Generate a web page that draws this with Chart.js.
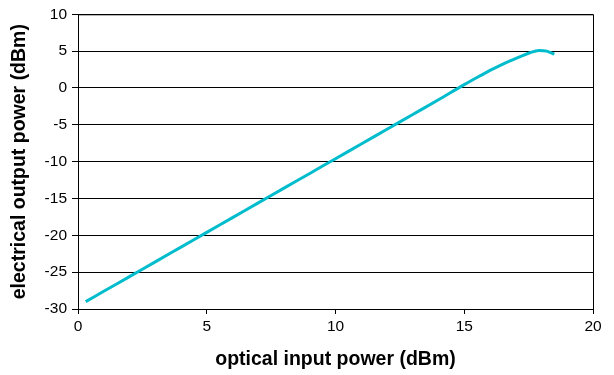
<!DOCTYPE html>
<html>
<head>
<meta charset="utf-8">
<script src="https://cdn.jsdelivr.net/npm/chart.js@4"></script>
<style>
  html, body { margin: 0; padding: 0; background: #fff; }
  #wrap { width: 614px; height: 375px; }
</style>
</head>
<body>
<div id="wrap"><canvas id="myChart"></canvas></div>
<script>
// optical input power (dBm)
const inputPower = [0.3, 1, 2, 3, 4, 5, 6, 7, 8, 9, 10, 11, 12, 13, 14, 15, 15.6, 16, 16.4, 16.8, 17.2, 17.55, 17.9, 18.2, 18.5];
// electrical output power (dBm)
const outputPower = [-29.0, -27.6, -25.6, -23.6, -21.6, -19.6, -17.6, -15.6, -13.6, -11.6, -9.6, -7.6, -5.6, -3.6, -1.6, 0.45, 1.62, 2.38, 3.08, 3.72, 4.3, 4.78, 5.08, 5.0, 4.6];
const xTicks = [0, 5, 10, 15, 20];
const yTicks = [-30, -25, -20, -15, -10, -5, 0, 5, 10];

const frame = {
  id: 'frame',
  afterDatasetsDraw(chart) {
    const { ctx, chartArea: a } = chart;
    ctx.save();
    ctx.strokeStyle = '#000';
    ctx.lineWidth = 1;
    ctx.strokeRect(a.left + 0.5, a.top + 0.5, a.right - a.left, a.bottom - a.top);
    ctx.restore();
  }
};

const ctx = document.getElementById('myChart').getContext('2d');
const myChart = new Chart(ctx, {
  type: 'line',
  data: {
    datasets: [
      {
        data: inputPower.map((x, i) => ({ x: x, y: outputPower[i] })),
        borderColor: '#00BCCC',
        borderWidth: 3,
        pointRadius: 0,
        cubicInterpolationMode: 'monotone',
        fill: false,
      },
    ],
  },
  options: {
    responsive: true,
    maintainAspectRatio: false,
    animation: false,
    layout: { padding: { top: 12, right: 21, left: 0, bottom: 0 } },
    plugins: { legend: { display: false }, tooltip: { enabled: false } },
    scales: {
      x: {
        type: 'linear',
        min: 0,
        max: 20,
        afterBuildTicks: (s) => { s.ticks = xTicks.map((v) => ({ value: v })); },
        afterFit: (s) => { s.height = 66; },
        border: { color: '#000', width: 1 },
        grid: { drawOnChartArea: false, color: '#000', tickLength: 5 },
        ticks: { color: '#000', font: { family: 'Liberation Sans', size: 15.5 }, padding: 3 },
        title: {
          display: true,
          text: 'optical input power (dBm)',
          color: '#000',
          font: { family: 'Liberation Sans', size: 19.5, weight: 'bold' },
          padding: { top: 7 },
        },
      },
      y: {
        min: -30,
        max: 10,
        afterBuildTicks: (s) => { s.ticks = yTicks.map((v) => ({ value: v })); },
        afterFit: (s) => { s.width = 78; },
        border: { color: '#000', width: 1 },
        grid: { color: '#000', tickLength: 6 },
        ticks: { color: '#000', font: { family: 'Liberation Sans', size: 15.5 }, padding: 5 },
        title: {
          display: true,
          text: 'electrical output power (dBm)',
          color: '#000',
          font: { family: 'Liberation Sans', size: 19.5, weight: 'bold' },
          padding: { top: 8, bottom: 0 },
        },
      },
    },
  },
  plugins: [frame],
});
</script>
</body>
</html>
